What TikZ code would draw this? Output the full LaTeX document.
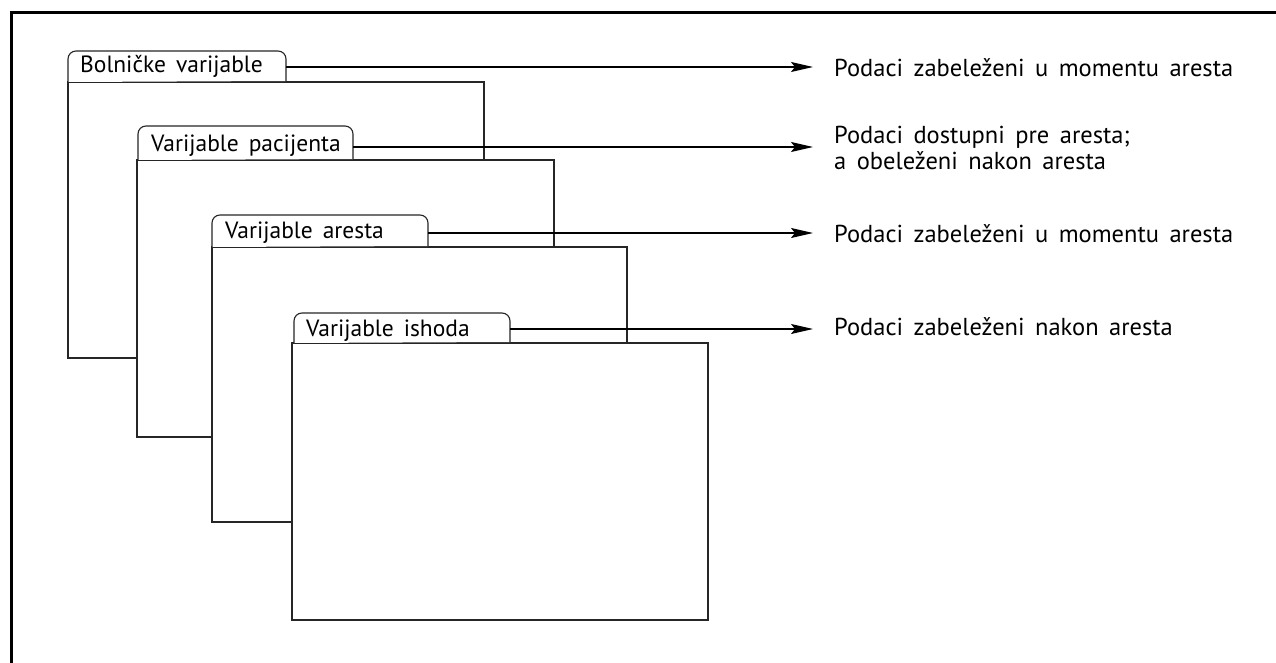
\documentclass[tikz,border=0pt]{standalone}
\usepackage{fontspec}
\setmainfont{PT Sans}[WordSpace=1.6]
\usetikzlibrary{arrows.meta}
\begin{document}
\begin{tikzpicture}[x=1pt,y=-1pt,
  frame/.style={line width=2.6pt, black},
  panel/.style={draw=black!85, line width=1.2pt, fill=white, minimum width=416pt, minimum height=276pt, anchor=north west, inner sep=0pt, outer sep=0pt},
  tabline/.style={draw=black!85, line width=1.1pt, fill=white, rounded corners=8pt},
  tabtext/.style={anchor=base west, inner sep=0pt, font=\fontsize{23.5}{26}\selectfont},
  labeltext/.style={anchor=base west, inner xsep=21pt, inner ysep=0pt, align=left, font=\fontsize{24.5}{24}\selectfont},
  arr/.style={line width=1.1pt, -{Stealth[length=22pt,width=10pt,inset=4pt]}}
]
\useasboundingbox (0,0) rectangle (1276,663);
\draw[frame] (11.3,663) -- (11.3,12.8) -- (1276,12.8);

% panel 1
\node[panel] (p1) at (68,82) {};
\draw[tabline] (68,82) -- (68,51) -- (286,51) -- (286,81);
\node[tabtext] (t1) at (80,73) {Bolničke varijable};
\coordinate (a1) at (286,67);

% panel 2
\node[panel, minimum width=417pt, minimum height=277pt] (p2) at (137,160) {};
\draw[tabline] (138,160) -- (138,126) -- (353,126) -- (353,159);
\node[tabtext] (t2) at (151,152) {Varijable pacijenta};
\coordinate (a2) at (353,147);

% panel 3
\node[panel, minimum width=415pt, minimum height=275pt] (p3) at (212,247) {};
\draw[tabline] (212,247) -- (212,215) -- (428,215) -- (428,246);
\node[tabtext] (t3) at (225,238) {Varijable aresta};
\coordinate (a3) at (428,233);

% panel 4
\node[panel, minimum height=277pt] (p4) at (292,343) {};
\draw[tabline] (294,343) -- (294,313) -- (510,313) -- (510,342);
\node[tabtext] (t4) at (306,336) {Varijable ishoda};
\coordinate (a4) at (510,329);

% labels
\node[labeltext] (l1) at (813,77) {Podaci zabeleženi u momentu aresta};
\node[labeltext] (l2) at (813,144) {\begin{tabular}[t]{@{}l@{}}Podaci dostupni pre aresta;\\a obeleženi nakon aresta\end{tabular}};
\node[labeltext] (l3) at (813,242) {Podaci zabeleženi u momentu aresta};
\node[labeltext] (l4) at (813,335) {Podaci zabeleženi nakon aresta};

% arrows
\draw[arr] (a1) -- (a1 -| l1.west);
\draw[arr] (a2) -- (a2 -| l2.west);
\draw[arr] (a3) -- (a3 -| l3.west);
\draw[arr] (a4) -- (a4 -| l4.west);
\end{tikzpicture}
\end{document}
